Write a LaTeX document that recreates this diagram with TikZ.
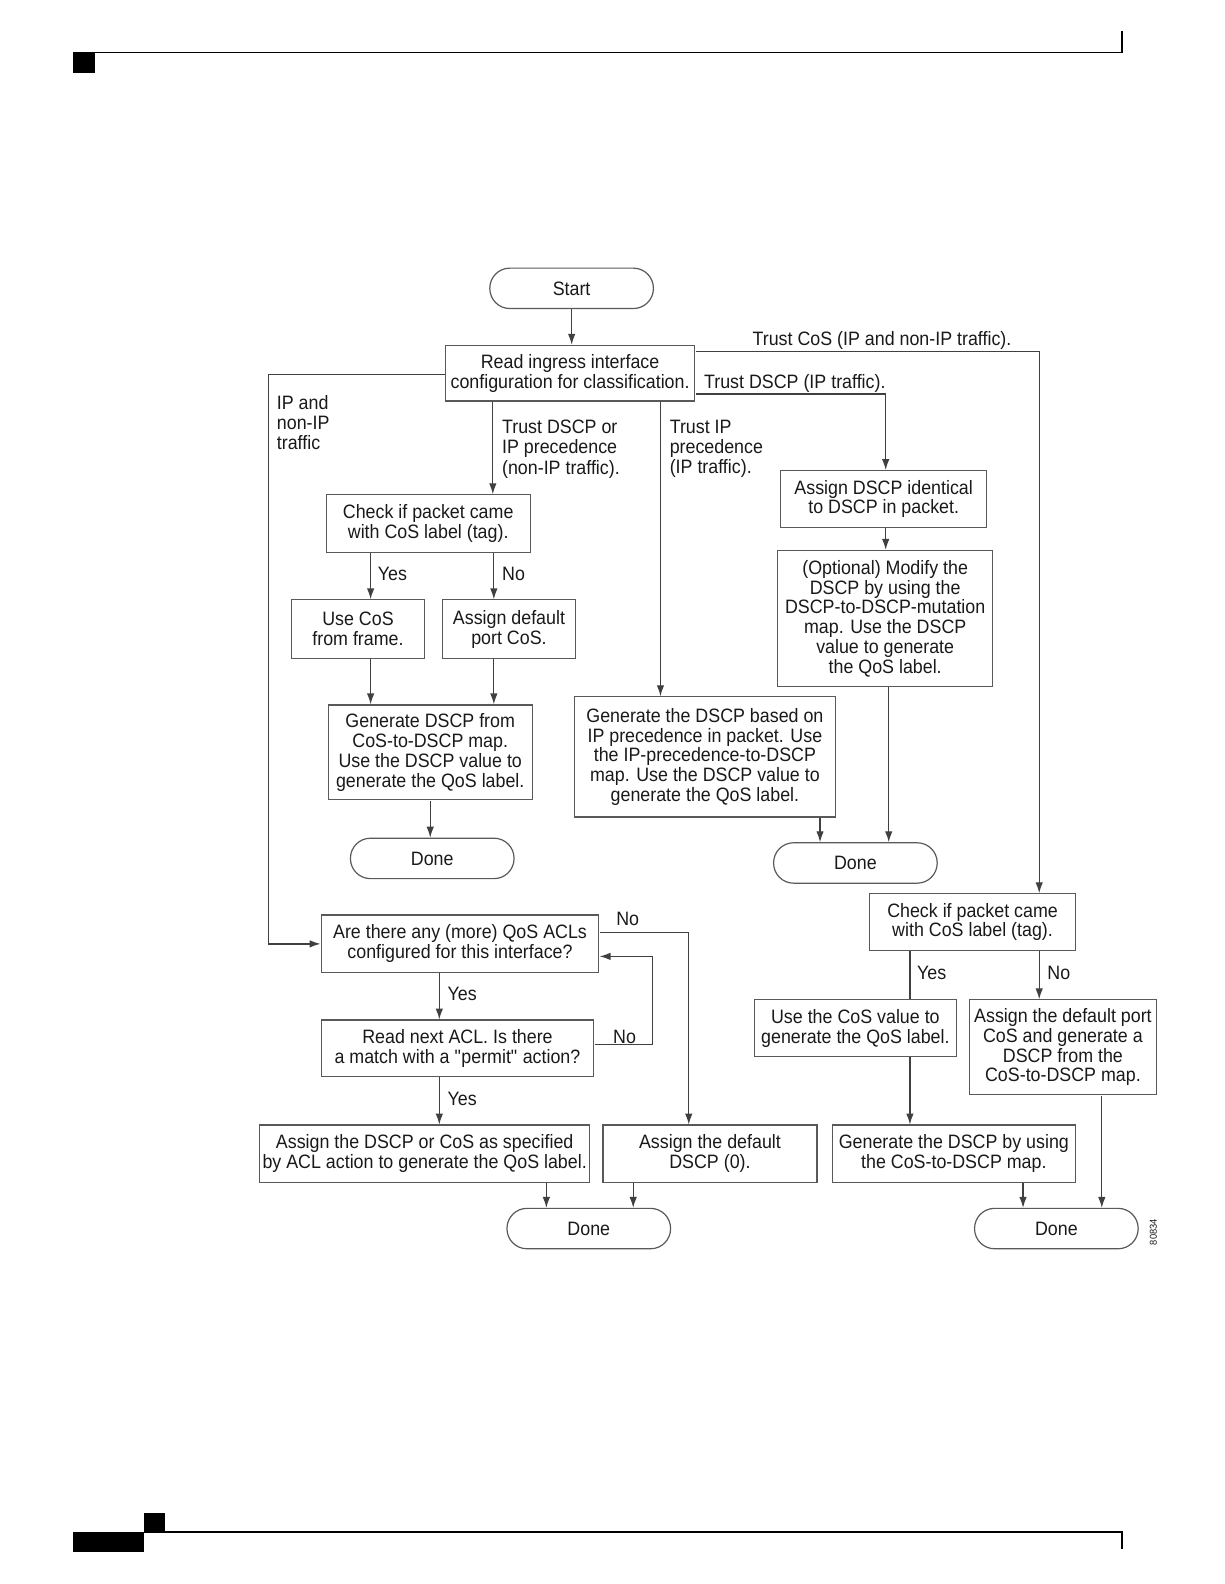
\documentclass[tikz,border=0pt]{standalone}
\usepackage{fontspec}
\setmainfont{Liberation Sans}[FakeStretch=0.92]
\usetikzlibrary{arrows.meta}
\begin{document}
\begin{tikzpicture}[x=1pt,y=-1pt,
  box/.style={draw=black!65, line width=1.2pt, inner sep=0pt, align=center, text=black!90,
    font=\fontsize{19.2}{19.6}\selectfont},
  term/.style={box, rounded corners=20pt, minimum width=162pt, minimum height=40pt},
  lbl/.style={inner sep=0pt, align=left, text=black!90, yshift=-3pt, font=\fontsize{19.2}{19.9}\selectfont},
  ln/.style={draw=black!75, line width=1.3pt},
  arr/.style={ln, -{Latex[length=11pt,width=7.5pt]}}]
\useasboundingbox (0,0) rectangle (1224,1584);
\begin{scope}[scale=1.0099, transform shape]
% page decorations
\fill[black] (72,52) rectangle (94,72);
\draw[line width=1.5pt] (72,52) -- (1111,52) -- (1111,31);
\fill[black] (72,1517) rectangle (143,1537);
\fill[black] (143,1498) rectangle (163,1517);
\draw[line width=1.5pt] (143,1517) -- (1111,1517) -- (1111,1534);

% nodes
\node[term] (start) at (566,285.5) {Start};
\node[box, minimum width=247pt, minimum height=55pt] (read) at (564.5,369.5) {Read ingress interface\\configuration for classification.};
\node[box, minimum width=202pt, minimum height=57pt] (check1) at (424,518.5) {Check if packet came\\with CoS label (tag).};
\node[box, minimum width=131pt, minimum height=58pt] (usecos) at (354.5,623) {Use CoS\\from frame.};
\node[box, minimum width=132pt, minimum height=58pt] (adefcos) at (504,623) {Assign default\\port CoS.};
\node[box, minimum width=202pt, minimum height=94pt] (gen1) at (426,745) {Generate DSCP from\\CoS-to-DSCP map.\\Use the DSCP value to\\generate the QoS label.};
\node[term] (done1) at (428,850) {Done};

\node[box, minimum width=204pt, minimum height=56pt] (ident) at (875,494) {Assign DSCP identical\\to DSCP in packet.};
\node[box, minimum width=213pt, minimum height=135pt] (opt) at (876.5,612.5) {(Optional) Modify the\\DSCP by using the\\DSCP-to-DSCP-mutation\\map. Use the DSCP\\value to generate\\the QoS label.};
\node[box, minimum width=258pt, minimum height=119pt] (genip) at (698,749.5) {Generate the DSCP based on\\IP precedence in packet. Use\\the IP-precedence-to-DSCP\\map. Use the DSCP value to\\generate the QoS label.};
\node[term] (done2) at (847,854.5) {Done};

\node[box, minimum width=204pt, minimum height=56pt] (check2) at (963,913) {Check if packet came\\with CoS label (tag).};
\node[box, minimum width=200pt, minimum height=56pt] (usecosv) at (847,1018) {Use the CoS value to\\generate the QoS label.};
\node[box, minimum width=185pt, minimum height=94pt] (adefport) at (1052.5,1037) {Assign the default port\\CoS and generate a\\DSCP from the\\CoS-to-DSCP map.};
\node[box, minimum width=241pt, minimum height=57pt] (gen2) at (944.5,1142.5) {Generate the DSCP by using\\the CoS-to-DSCP map.};
\node[term] (done4) at (1046,1216.5) {Done};

\node[box, minimum width=275pt, minimum height=57pt] (acl) at (455.5,934.5) {Are there any (more) QoS ACLs\\configured for this interface?};
\node[box, minimum width=270pt, minimum height=56pt] (readacl) at (453,1038) {Read next ACL. Is there\\a match with a \textquotedbl permit\textquotedbl{} action?};
\node[box, minimum width=327pt, minimum height=57pt] (assacl) at (420.5,1142.5) {Assign the DSCP or CoS as specified\\by ACL action to generate the QoS label.};
\node[box, minimum width=212pt, minimum height=57pt] (adefdscp) at (703,1142.5) {Assign the default\\DSCP (0).};
\node[term] (done3) at (583,1216.5) {Done};

% labels
\node[lbl, anchor=west] (lcos) at (745,334) {Trust CoS (IP and non-IP traffic).};
\node[lbl, anchor=west] (ldscp) at (697,377) {Trust DSCP (IP traffic).};
\node[lbl, anchor=north west] (lipnon) at (274,388) {IP and\\non-IP\\traffic};
\node[lbl, anchor=north west] (ltdip) at (497,413) {Trust DSCP or\\IP precedence\\(non-IP traffic).};
\node[lbl, anchor=north west] (ltip) at (663,413) {Trust IP\\precedence\\(IP traffic).};
\node[lbl, anchor=west] (y1) at (374,565) {Yes};
\node[lbl, anchor=west] (n1) at (497,565) {No};
\node[lbl, anchor=west] (y2) at (908,960) {Yes};
\node[lbl, anchor=west] (n2) at (1037,960) {No};
\node[lbl, anchor=west] (n3) at (610,907) {No};
\node[lbl, anchor=west] (y3) at (443,981) {Yes};
\node[lbl, anchor=west] (n4) at (607,1024) {No};
\node[lbl, anchor=west] (y4) at (443,1085) {Yes};
\node[inner sep=0pt, rotate=90, text=black!90, font=\fontsize{10}{10}\selectfont] (fig) at (1142,1220) {80834};

% connectors
\draw[arr] (start.south) -- (start.south |- read.north);
\draw[arr] (read.east |- 0,348) -- (1029,348) -- (check2.north -| 1029,0);
\draw[arr] (read.east |- 0,390) -- (877,390) -- (ident.north -| 877,0);
\draw[arr] (read.west |- 0,371) -- (266,371) |- (acl.west);
\draw[arr] (read.south -| 488,0) -- (check1.north -| 488,0);
\draw[arr] (read.south -| 654,0) -- (genip.north -| 654,0);

\draw[arr] (check1.south -| 367,0) -- (usecos.north -| 367,0);
\draw[arr] (check1.south -| 489,0) -- (adefcos.north -| 489,0);
\draw[arr] (usecos.south -| 367,0) -- (gen1.north -| 367,0);
\draw[arr] (adefcos.south -| 489,0) -- (gen1.north -| 489,0);
\draw[arr] (gen1.south -| 426,0) -- (done1.north -| 426,0);

\draw[arr] (ident.south -| 877,0) -- (opt.north -| 877,0);
\draw[arr] (opt.south -| 880,0) -- (done2.north -| 880,0);
\draw[arr] (genip.south -| 812,0) -- (done2.north -| 812,0);

\draw[ln] (check2.south -| 901,0) -- (usecosv.north -| 901,0);
\draw[arr] (check2.south -| 1029,0) -- (adefport.north -| 1029,0);
\draw[arr] (usecosv.south -| 901,0) -- (gen2.north -| 901,0);
\draw[arr] (gen2.south -| 1013,0) -- (done4.north -| 1013,0);
\draw[arr] (adefport.south -| 1091,0) -- (done4.north -| 1091,0);

\draw[arr] (acl.east |- 0,923) -- (682,923) -- (adefdscp.north -| 682,0);
\draw[arr] (acl.south -| 435,0) -- (readacl.north -| 435,0);
\draw[arr] (readacl.east |- 0,1034) -- (646,1034) -- (646,947) -- (acl.east |- 0,947);
\draw[arr] (readacl.south -| 435,0) -- (assacl.north -| 435,0);
\draw[arr] (assacl.south -| 541,0) -- (done3.north -| 541,0);
\draw[arr] (adefdscp.south -| 627,0) -- (done3.north -| 627,0);
\end{scope}
\end{tikzpicture}
\end{document}
